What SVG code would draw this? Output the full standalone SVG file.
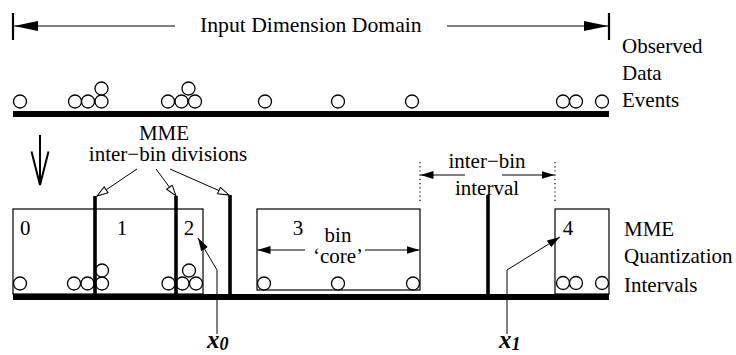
<svg xmlns="http://www.w3.org/2000/svg" width="736" height="355" viewBox="0 0 736 355">
<style>
text{font-family:'Liberation Serif','Times New Roman',serif;font-size:21px;fill:#000}
.c{fill:#fff;stroke:#000;stroke-width:1.3}
.thin{stroke:#000;stroke-width:1;fill:none}
.box{fill:#fff;stroke:#000;stroke-width:1.2}
.div{stroke:#000;stroke-width:3.6}
.bar{stroke:#000;stroke-width:6}
.dot{stroke:#000;stroke-width:1.2;stroke-dasharray:1.2 3}
.mid{text-anchor:middle}
.var{font-style:italic;font-weight:bold;font-size:25px}
</style>
<defs>
<marker id="big" markerUnits="userSpaceOnUse" markerWidth="26" markerHeight="12" refX="24" refY="5" orient="auto">
<path d="M0,0 L24,5 L0,10 z" fill="#000"/>
</marker>
<marker id="fill" markerUnits="userSpaceOnUse" markerWidth="14" markerHeight="10" refX="13" refY="4" orient="auto">
<path d="M0,0 L13,4 L0,8 z" fill="#000"/>
</marker>
<marker id="open" markerUnits="userSpaceOnUse" markerWidth="14" markerHeight="10" refX="12" refY="4" orient="auto">
<path d="M1,0.5 L12,4 L1,7.5 z" fill="#fff" stroke="#000" stroke-width="1"/>
</marker>
</defs>

<g id="domain">
<line x1="13" y1="13" x2="13" y2="40" stroke="#000" stroke-width="2.2"/>
<line x1="609" y1="13" x2="609" y2="40" stroke="#000" stroke-width="2.2"/>
<text x="200" y="32" style="font-size:21.7px">Input Dimension Domain</text>
</g>

<g id="observed-label">
<text x="622" y="53">Observed</text>
<text x="622" y="80">Data</text>
<text x="622" y="107">Events</text>
</g>

<g id="observed-events">
<line class="bar" x1="13" y1="114" x2="609" y2="114"/>
<circle class="c" cx="20" cy="101.5" r="6.5"/>
<circle class="c" cx="75" cy="101.5" r="6.5"/>
<circle class="c" cx="88" cy="101.5" r="6.5"/>
<circle class="c" cx="101.5" cy="101.5" r="6.5"/>
<circle class="c" cx="101.5" cy="88.5" r="6.5"/>
<circle class="c" cx="168" cy="101.5" r="6.5"/>
<circle class="c" cx="181.5" cy="101.5" r="6.5"/>
<circle class="c" cx="195" cy="101.5" r="6.5"/>
<circle class="c" cx="188.5" cy="88.5" r="6.5"/>
<circle class="c" cx="265" cy="101.5" r="6.5"/>
<circle class="c" cx="338" cy="101.5" r="6.5"/>
<circle class="c" cx="412" cy="101.5" r="6.5"/>
<circle class="c" cx="563" cy="101.5" r="6.5"/>
<circle class="c" cx="576" cy="101.5" r="6.5"/>
<circle class="c" cx="602" cy="101.5" r="6.5"/>
</g>

<g id="down-arrow">
<line x1="40" y1="135" x2="40" y2="185" stroke="#000" stroke-width="2"/>
<polyline points="31.5,151.5 40,185 48.5,151.5" fill="none" stroke="#000" stroke-width="2"/>
</g>

<g id="divisions-label">
<text class="mid" x="164" y="140">MME</text>
<text class="mid" x="168" y="161">inter−bin divisions</text>
</g>

<g id="bin-0-2">
<rect class="box" x="13" y="209" width="190" height="85"/>
<text x="20" y="235">0</text>
<text class="mid" x="122" y="235">1</text>
<text class="mid" x="189" y="235">2</text>
<circle class="c" cx="20" cy="283.5" r="6.5"/>
<circle class="c" cx="74" cy="283.5" r="6.5"/>
<circle class="c" cx="87.5" cy="283.5" r="6.5"/>
<circle class="c" cx="102" cy="283.5" r="6.5"/>
<circle class="c" cx="102" cy="270.5" r="6.5"/>
<circle class="c" cx="168.5" cy="283.5" r="6.5"/>
<circle class="c" cx="182.5" cy="283.5" r="6.5"/>
<circle class="c" cx="196" cy="283.5" r="6.5"/>
<circle class="c" cx="189" cy="270.5" r="6.5"/>
</g>

<g id="bin-3">
<rect class="box" x="257" y="209" width="163" height="81"/>
<text class="mid" x="298" y="235">3</text>
<text class="mid" x="338" y="242">bin</text>
<text class="mid" x="338" y="263">‘core’</text>
<circle class="c" cx="264" cy="283.5" r="6.5"/>
<circle class="c" cx="338" cy="283.5" r="6.5"/>
<circle class="c" cx="413" cy="283.5" r="6.5"/>
</g>

<g id="bin-4">
<rect class="box" x="555" y="209" width="54" height="85"/>
<text class="mid" x="568" y="235">4</text>
<circle class="c" cx="563" cy="283" r="6.5"/>
<circle class="c" cx="576" cy="283" r="6.5"/>
<circle class="c" cx="602" cy="283" r="6.5"/>
</g>

<g id="division-lines">
<line class="div" x1="95" y1="196" x2="95" y2="297"/>
<line class="div" x1="176" y1="196" x2="176" y2="297"/>
<line class="div" x1="230" y1="195" x2="230" y2="297"/>
<line class="div" x1="488" y1="195" x2="488" y2="297"/>
</g>

<g id="interval-label">
<line class="dot" x1="420" y1="162" x2="420" y2="203"/>
<line class="dot" x1="555" y1="162" x2="555" y2="203"/>
<text class="mid" x="487" y="168">inter−bin</text>
<text class="mid" x="487" y="195">interval</text>
</g>

<g id="quantization-label">
<text x="624" y="236">MME</text>
<text x="624" y="263">Quantization</text>
<text x="624" y="292">Intervals</text>
</g>

<g id="baseline">
<line class="bar" x1="13" y1="297" x2="609" y2="297"/>
</g>

<g id="x0">
<text class="var" x="207" y="348">x<tspan style="font-size:18px" dy="2">0</tspan></text>
</g>
<g id="x1">
<text class="var" x="499" y="348">x<tspan style="font-size:18px" dy="2">1</tspan></text>
</g>

<g id="connectors">
<line class="thin" x1="175" y1="26" x2="14" y2="26" marker-end="url(#big)"/>
<line class="thin" x1="447" y1="26" x2="608" y2="26" marker-end="url(#big)"/>
<line class="thin" x1="137" y1="169" x2="97" y2="196" marker-end="url(#open)"/>
<line class="thin" x1="156" y1="169" x2="176" y2="196" marker-end="url(#open)"/>
<line class="thin" x1="170" y1="169" x2="229" y2="195" marker-end="url(#open)"/>
<line class="thin" x1="305" y1="250" x2="257.5" y2="250" marker-end="url(#fill)"/>
<line class="thin" x1="365" y1="250" x2="419.5" y2="250" marker-end="url(#fill)"/>
<line class="thin" x1="465" y1="175" x2="420.5" y2="175" marker-end="url(#fill)"/>
<line class="thin" x1="502" y1="175" x2="554.5" y2="175" marker-end="url(#fill)"/>
<polyline class="thin" points="217,334 217,270 198,238" marker-end="url(#fill)"/>
<polyline class="thin" points="507,334 507,270 560,237" marker-end="url(#fill)"/>
</g>
</svg>
